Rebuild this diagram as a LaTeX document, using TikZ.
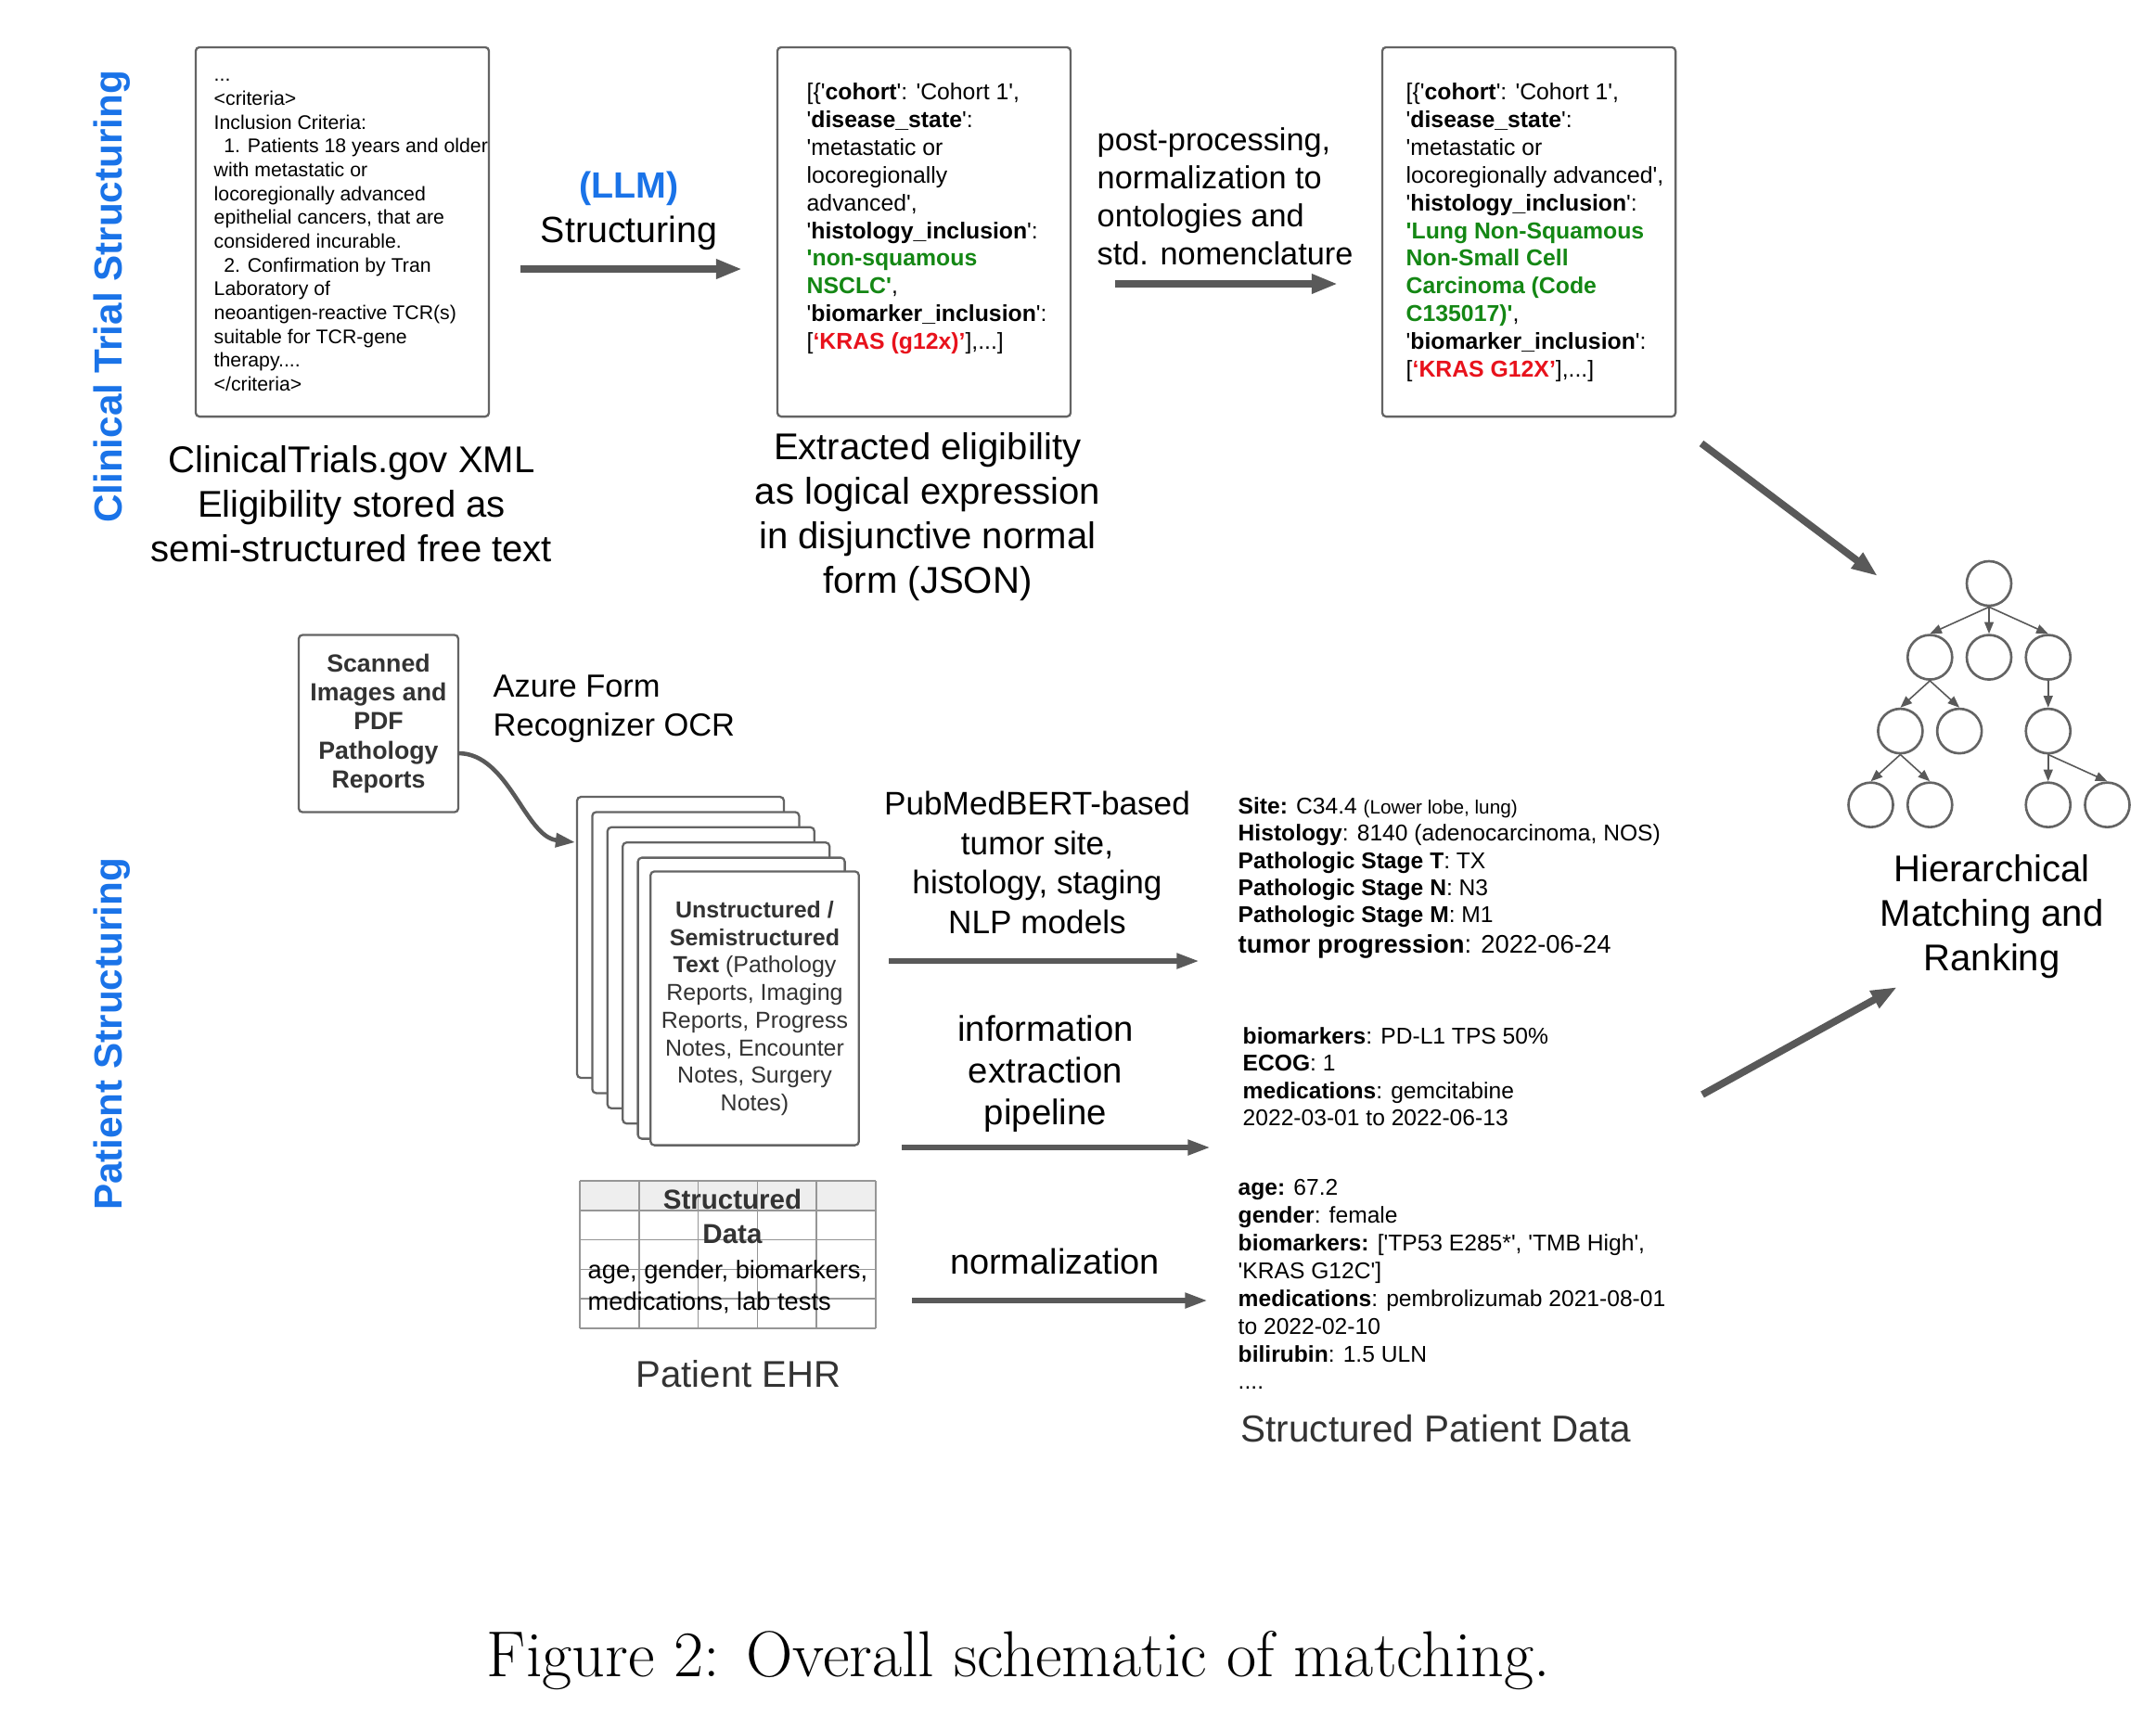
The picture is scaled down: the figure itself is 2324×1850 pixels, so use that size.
\documentclass[tikz,border=0pt]{standalone}
\usepackage{fontspec}
\usepackage{tikz}
\usetikzlibrary{arrows.meta}
\newfontfamily\arial{Liberation Sans}
\definecolor{trialblue}{RGB}{26,115,232}
\definecolor{keepgreen}{RGB}{20,135,20}
\definecolor{keepred}{RGB}{232,18,28}
\definecolor{flowgray}{RGB}{89,89,89}
\definecolor{framegray}{RGB}{100,100,100}
\definecolor{inkgray}{RGB}{51,51,51}
\definecolor{cellgray}{RGB}{238,238,238}
\definecolor{rulegray}{RGB}{150,150,150}
\newcommand{\setfs}[2]{\fontsize{#1}{#2}\selectfont}

\begin{document}
\arial
\begin{tikzpicture}[x=0.01cm, y=-0.01cm,
  panel/.style={draw=framegray, line width=0.65pt, rounded corners=1.2pt, fill=white},
  flow/.style={draw=flowgray, line width=2.2pt, -{Triangle[length=8pt,width=5.6pt]}},
  thinflow/.style={draw=flowgray, line width=1.7pt, -{Triangle[length=7pt,width=4.4pt]}},
  leaf/.style={circle, draw=framegray, line width=0.75pt, minimum size=0.48cm, inner sep=0pt},
  txt/.style={inner sep=0pt, align=left},
  ctxt/.style={inner sep=0pt, align=center}]
	\fill[white] (0,0) rectangle (2324,1850);
	\useasboundingbox (0,0) rectangle (2324,1850);
	\node[rotate=90, anchor=base, text=trialblue, font=\bfseries\setfs{12}{14}] (ctlabel) at (131,320) {Clinical Trial Structuring};
	\node[rotate=90, anchor=base, text=trialblue, font=\bfseries\setfs{12}{14}] (ptlabel) at (131,1115) {Patient Structuring};
	\node[panel, minimum width=3.16cm, minimum height=3.98cm] (xmlbox) at (369,250) {};
	\node[panel, minimum width=3.16cm, minimum height=3.98cm] (dnfbox) at (996,250) {};
	\node[panel, minimum width=3.16cm, minimum height=3.98cm] (ontobox) at (1648,250) {};
	\node[txt, anchor=north west, font=\setfs{6.05}{7.3}] (xmltext) at (230,69) {\strut...\\<criteria>\\Inclusion Criteria:\\\hspace{3pt}1. Patients 18 years and older\\with metastatic or\\locoregionally advanced\\epithelial cancers, that are\\considered incurable.\\\hspace{3pt}2. Confirmation by Tran\\Laboratory of\\neoantigen-reactive TCR(s)\\suitable for TCR-gene\\therapy....\\</criteria>};
	\node[txt, anchor=north west, font=\setfs{7.05}{8.5}] (dnftext) at (869,86) {\strut[\{'\textbf{cohort}': 'Cohort 1',\\'\textbf{disease\_state}':\\'metastatic or\\locoregionally\\advanced',\\'\textbf{histology\_inclusion}':\\\textbf{\color{keepgreen}'non-squamous}\\\textbf{\color{keepgreen}NSCLC'},\\'\textbf{biomarker\_inclusion}':\\{[}\textbf{\color{keepred}‘KRAS (g12x)’}],...]};
	\node[txt, anchor=north west, font=\setfs{7.05}{8.5}] (ontotext) at (1515,86) {\strut[\{'\textbf{cohort}': 'Cohort 1',\\'\textbf{disease\_state}':\\'metastatic or\\locoregionally advanced',\\'\textbf{histology\_inclusion}':\\\textbf{\color{keepgreen}'Lung Non-Squamous}\\\textbf{\color{keepgreen}Non-Small Cell}\\\textbf{\color{keepgreen}Carcinoma (Code}\\\textbf{\color{keepgreen}C135017)'},\\'\textbf{biomarker\_inclusion}':\\{[}\textbf{\color{keepred}‘KRAS G12X’}],...]};
	\node[ctxt, anchor=north, font=\setfs{11.2}{13.65}] (llmlabel) at (678,179) {\strut\textcolor{trialblue}{\textbf{(LLM)}}\\Structuring};
	\node[txt, anchor=north west, font=\setfs{9.75}{11.67}] (postlabel) at (1182,133) {\strut post-processing,\\normalization to\\ontologies and\\std. nomenclature};
	\node[ctxt, anchor=north, font=\setfs{11.4}{13.65}] (xmlcap) at (379,475) {\strut ClinicalTrials.gov XML\\Eligibility stored as\\semi-structured free text};
	\node[ctxt, anchor=north, font=\setfs{11.4}{13.65}] (dnfcap) at (1000,461) {\strut Extracted eligibility\\as logical expression\\in disjunctive normal\\form (JSON)};
	\coordinate (llm-from) at (561,290);
	\coordinate (llm-to) at (800,290);
	\coordinate (post-from) at (1202,306);
	\coordinate (post-to) at (1442,306);
	\coordinate (onto-from) at (1834,478);
	\coordinate (rank-top) at (2024,621);
	\coordinate (facts-from) at (1835,1180);
	\coordinate (rank-bottom) at (2045,1064);
	\draw[flow] (llm-from) -- (llm-to);
	\draw[flow] (post-from) -- (post-to);
	\draw[flow] (onto-from) -- (rank-top);
	\draw[flow] (facts-from) -- (rank-bottom);
	\begin{scope}[level distance=0.795cm, sibling distance=0.637cm, parent anchor=south, child anchor=north,
	  edge from parent/.style={draw=flowgray, line width=0.45pt, -{Triangle[length=3.6pt,width=2.8pt]}}]
	\node[leaf] (rank) at (2144,629) {}
	  child {node[leaf] {}
	    child {node[leaf] {}
	      child {node[leaf] {}}
	      child {node[leaf] {}}}
	    child {node[leaf] {}}}
	  child {node[leaf] {}}
	  child {node[leaf] {}
	    child {node[leaf] {}
	      child[missing]
	      child {node[leaf] {}}
	      child {node[leaf] {}}}};
	\end{scope}
	\node[ctxt, anchor=north, font=\setfs{11.4}{13.65}] (rankcap) at (2147,916) {\strut Hierarchical\\Matching and\\Ranking};
	\node[panel, minimum width=1.72cm, minimum height=1.91cm, align=center, text=inkgray, font=\bfseries\setfs{7.6}{8.9}] (scans) at (408,780) {Scanned\\Images and\\PDF\\Pathology\\Reports};
	\node[txt, anchor=north west, font=\setfs{9.8}{11.95}] (ocrlabel) at (531,721) {\strut Azure Form\\Recognizer OCR};
	\foreach \k in {0,...,4}
	  \draw[panel] (622+16.4*\k,859+16.4*\k) rectangle ++(223,303);
	\node[panel, minimum width=2.23cm, minimum height=2.95cm, align=center, text=inkgray, font=\setfs{7.1}{8.45}] (notes) at (813.5,1087) {\textbf{Unstructured /}\\\textbf{Semistructured}\\\textbf{Text} (Pathology\\Reports, Imaging\\Reports, Progress\\Notes, Encounter\\Notes, Surgery\\Notes)};
	\coordinate (ocr-out) at (494,812);
	\coordinate (ocr-in) at (620,908);
	\draw[draw=flowgray, line width=1.3pt, -{Triangle[length=6pt,width=4.2pt]}] (ocr-out) .. controls (548,812) and (566,902) .. (ocr-in);
	\fill[cellgray] (625,1273) rectangle (944,1305);
	\foreach \c in {0,...,5}
	  \draw[rulegray, line width=0.45pt] (625+63.8*\c,1273) -- (625+63.8*\c,1432);
	\foreach \r in {0,...,5}
	  \draw[rulegray, line width=0.45pt] (625,1273+31.8*\r) -- (944,1273+31.8*\r);
	\node[ctxt, anchor=north, text=inkgray, font=\bfseries\setfs{8.4}{10.25}] (ehrhead) at (789.5,1278) {\strut Structured\\Data};
	\node[txt, anchor=north west, font=\setfs{7.75}{9.67}] (ehrfields) at (633,1354) {\strut age, gender, biomarkers,\\medications, lab tests};
	\node[txt, anchor=base, text=inkgray, font=\setfs{11.4}{13.65}] (ehrcap) at (796,1495) {Patient EHR};
	\node[ctxt, anchor=north, font=\setfs{10}{12.1}] (nlplabel) at (1118,848) {\strut PubMedBERT-based\\tumor site,\\histology, staging\\NLP models};
	\node[ctxt, anchor=north, font=\setfs{10.9}{12.8}] (ielabel) at (1127,1090) {\strut information\\extraction\\pipeline};
	\node[txt, anchor=base, font=\setfs{10.8}{13}] (normlabel) at (1137,1373) {normalization};
	\coordinate (nlp-from) at (958,1036);
	\coordinate (nlp-to) at (1293,1036);
	\coordinate (ie-from) at (972,1237);
	\coordinate (ie-to) at (1305,1237);
	\coordinate (norm-from) at (983,1402);
	\coordinate (norm-to) at (1302,1402);
	\draw[thinflow] (nlp-from) -- (nlp-to);
	\draw[thinflow] (ie-from) -- (ie-to);
	\draw[thinflow] (norm-from) -- (norm-to);
	\node[txt, anchor=north west, font=\setfs{7}{8.35}] (tumorfacts) at (1334,856) {\strut\textbf{Site:} C34.4 {\setfs{5.9}{8.35}(Lower lobe, lung)}\\\textbf{Histology}: 8140 (adenocarcinoma, NOS)\\\textbf{Pathologic Stage T}: TX\\\textbf{Pathologic Stage N}: N3\\\textbf{Pathologic Stage M}: M1\\[1pt]{\setfs{7.8}{9.4}\textbf{tumor progression}: 2022-06-24}};
	\node[txt, anchor=north west, font=\setfs{7}{8.35}] (ecogfacts) at (1339,1104) {\strut\textbf{biomarkers}: PD-L1 TPS 50\%\\\textbf{ECOG}: 1\\\textbf{medications}: gemcitabine\\2022-03-01 to 2022-06-13};
	\node[txt, anchor=north west, font=\setfs{7}{8.5}] (ehrfacts) at (1334,1267) {\strut\textbf{age:} 67.2\\\textbf{gender}: female\\\textbf{biomarkers:} ['TP53 E285*', 'TMB High',\\'KRAS G12C']\\\textbf{medications}: pembrolizumab 2021-08-01\\to 2022-02-10\\\textbf{bilirubin}: 1.5 ULN\\....};
	\node[txt, anchor=base west, text=inkgray, font=\setfs{11.5}{13.8}] (factscap) at (1337,1554) {Structured Patient Data};
	\node[txt, anchor=base, font=\rmfamily\setfs{19.9}{24}] (figcap) at (1098,1807) {Figure 2: Overall schematic of matching.};
\end{tikzpicture}
\end{document}
